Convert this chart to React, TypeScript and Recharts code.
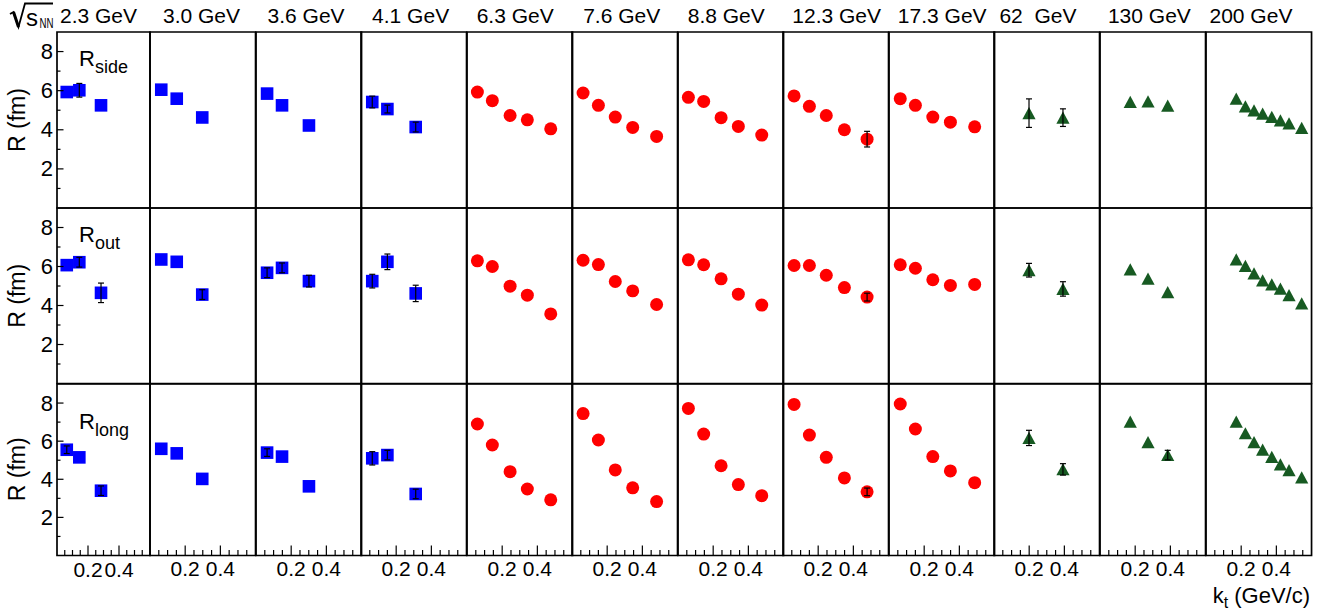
import { ScatterChart, Scatter, XAxis, YAxis, ErrorBar, ReferenceArea } from 'recharts';

const FONT = '"Liberation Sans", Arial, Helvetica, sans-serif';

// beam energies, one column each
const energies = ['2.3 GeV', '3.0 GeV', '3.6 GeV', '4.1 GeV', '6.3 GeV', '7.6 GeV', '8.8 GeV', '12.3 GeV', '17.3 GeV', '62  GeV', '130 GeV', '200 GeV'];
const markers = ['square', 'square', 'square', 'square', 'circle', 'circle', 'circle', 'circle', 'circle', 'triangle', 'triangle', 'triangle'];

// pair transverse momentum k_t (GeV/c) per energy
const kt = [
  [0.063, 0.144, 0.284],
  [0.064, 0.152, 0.297],
  [0.063, 0.148, 0.301],
  [0.064, 0.150, 0.311],
  [0.059, 0.144, 0.245, 0.343, 0.476],
  [0.063, 0.150, 0.246, 0.345, 0.481],
  [0.059, 0.146, 0.245, 0.343, 0.476],
  [0.063, 0.150, 0.246, 0.349, 0.478],
  [0.064, 0.150, 0.249, 0.349, 0.487],
  [0.199, 0.392],
  [0.172, 0.273, 0.385],
  [0.172, 0.224, 0.273, 0.322, 0.374, 0.423, 0.472, 0.544],
];

// radii (fm) and their errors; 0 = error hidden by the marker
const rSide = [
  [5.93, 6.02, 5.25],
  [6.05, 5.59, 4.63],
  [5.85, 5.25, 4.22],
  [5.42, 5.06, 4.14],
  [5.93, 5.49, 4.73, 4.51, 4.05],
  [5.88, 5.25, 4.65, 4.12, 3.66],
  [5.66, 5.45, 4.62, 4.17, 3.73],
  [5.73, 5.2, 4.73, 4.0, 3.52],
  [5.59, 5.25, 4.65, 4.39, 4.15],
  [4.85, 4.62],
  [5.42, 5.45, 5.23],
  [5.59, 5.19, 4.99, 4.82, 4.65, 4.48, 4.32, 4.09],
];
const eSide = [
  [0, 0.35, 0],
  [0, 0, 0],
  [0, 0, 0],
  [0.3, 0.2, 0.25],
  [0, 0, 0, 0, 0],
  [0, 0, 0, 0, 0],
  [0, 0, 0, 0, 0],
  [0, 0, 0, 0, 0.4],
  [0, 0, 0, 0, 0],
  [0.73, 0.45],
  [0, 0, 0],
  [0, 0, 0, 0, 0, 0, 0, 0],
];

const rOut = [
  [6.07, 6.22, 4.65],
  [6.36, 6.24, 4.56],
  [5.68, 5.93, 5.25],
  [5.25, 6.24, 4.62],
  [6.29, 6.0, 4.99, 4.53, 3.57],
  [6.32, 6.1, 5.23, 4.75, 4.05],
  [6.34, 6.09, 5.37, 4.58, 4.02],
  [6.05, 6.05, 5.55, 4.92, 4.43],
  [6.09, 5.91, 5.32, 5.03, 5.08],
  [5.81, 4.85],
  [5.85, 5.37, 4.68],
  [6.36, 6.03, 5.64, 5.28, 5.08, 4.86, 4.53, 4.1],
];
const eOut = [
  [0, 0.25, 0.5],
  [0, 0, 0.25],
  [0.25, 0.25, 0.3],
  [0.35, 0.4, 0.42],
  [0, 0, 0, 0, 0],
  [0, 0, 0, 0, 0],
  [0, 0, 0, 0, 0],
  [0, 0, 0, 0, 0.2],
  [0, 0, 0, 0, 0],
  [0.35, 0.37],
  [0, 0, 0],
  [0, 0, 0, 0, 0, 0, 0, 0],
];

const rLong = [
  [5.55, 5.15, 3.4],
  [5.6, 5.36, 4.02],
  [5.4, 5.19, 3.63],
  [5.1, 5.27, 3.23],
  [6.9, 5.8, 4.4, 3.49, 2.92],
  [7.45, 6.06, 4.49, 3.55, 2.83],
  [7.72, 6.37, 4.71, 3.72, 3.14],
  [7.93, 6.32, 5.15, 4.07, 3.34],
  [7.95, 6.64, 5.19, 4.44, 3.82],
  [6.17, 4.52],
  [7.02, 5.94, 5.27],
  [7.02, 6.41, 5.94, 5.55, 5.17, 4.78, 4.47, 4.09],
];
const eLong = [
  [0.2, 0, 0.25],
  [0, 0, 0],
  [0.2, 0, 0],
  [0.35, 0.25, 0.25],
  [0, 0, 0, 0, 0],
  [0, 0, 0, 0, 0],
  [0, 0, 0, 0, 0],
  [0, 0, 0, 0, 0.2],
  [0, 0, 0, 0, 0],
  [0.4, 0.3],
  [0, 0, 0.25],
  [0, 0, 0, 0, 0, 0, 0, 0],
];

const radii = [rSide, rOut, rLong];
const radiusErrors = [eSide, eOut, eLong];
const radiusNames = ['side', 'out', 'long'];

const xTicks = [0.05, 0.1, 0.15, 0.2, 0.25, 0.3, 0.35, 0.4, 0.45, 0.5, 0.55];
const xTickLabels = [0.2, 0.4];
const yTicks = [1, 2, 3, 4, 5, 6, 7, 8];
const yTickLabels = [2, 4, 6, 8];

// layout (pixels)
const FRAME_L = 57;
const COL0_R = 150;
const COL_W = 105.55;
const ROW_TOP = [32, 208, 383.5];
const ROW_BOT = [208, 383.5, 555];
const BOTTOM_PAD = 57;
const titleOffset = [3, 13, 12, 11, 10, 11, 10, 9, 9, 5, 8, 4];
const labelBaseline = [66, 242, 429];

const colors: Record<string, string> = {
  square: '#0000ff',
  circle: '#ff0000',
  triangle: '#175a22',
};

const Square = (p: any) => (
  <rect x={p.cx - 6.3} y={p.cy - 6.3} width={12.6} height={12.6} fill={colors.square} />
);
const Circle = (p: any) => <circle cx={p.cx} cy={p.cy} r={6.5} fill={colors.circle} />;
const Triangle = (p: any) => (
  <polygon
    points={`${p.cx - 6.6},${p.cy + 6} ${p.cx + 6.6},${p.cy + 6} ${p.cx},${p.cy - 6.2}`}
    fill={colors.triangle}
  />
);
const shapes: Record<string, any> = { square: Square, circle: Circle, triangle: Triangle };
const NoShape = () => <g />;

const isOn = (list: number[], v: number) => list.some(t => Math.abs(t - v) < 1e-6);

const xTick = (showLabel: boolean) => (props: any) => {
  const { x, y, payload } = props;
  const major = isOn(xTickLabels, payload.value);
  return (
    <g>
      <line x1={x} x2={x} y1={y} y2={y - (major ? 10 : 5.5)} stroke="#000" strokeWidth={1.2} />
      {showLabel && major && (
        <text x={x} y={y + 21} textAnchor="middle" fontSize={21} fontFamily={FONT} fill="#000">
          {payload.value.toFixed(1)}
        </text>
      )}
    </g>
  );
};

const yTick = (showLabel: boolean) => (props: any) => {
  const { x, y, payload } = props;
  const major = isOn(yTickLabels, payload.value);
  return (
    <g>
      <line x1={x} x2={x + (major ? 6.5 : 3.5)} y1={y} y2={y} stroke="#000" strokeWidth={1.2} />
      {showLabel && major && (
        <text x={x - 4} y={y} dominantBaseline="central" textAnchor="end" fontSize={22} fontFamily={FONT} fill="#000">
          {payload.value}
        </text>
      )}
    </g>
  );
};

function Panel({ row, col }: { row: number; col: number }) {
  const left = col === 0 ? 0 : COL0_R + (col - 1) * COL_W;
  const right = COL0_R + col * COL_W;
  const yAxisW = col === 0 ? FRAME_L : 0;
  const xAxisH = row === 2 ? BOTTOM_PAD : 0;
  const top = ROW_TOP[row];
  const height = ROW_BOT[row] - top + xAxisH;
  const width = right - left;

  const data = kt[col].map((k, i) => ({
    kt: k,
    r: radii[row][col][i],
    err: radiusErrors[row][col][i],
  }));
  // only the points whose error bar sticks out of the marker
  const errData = data.filter(d => d.err > 0);

  return (
    <div style={{ position: 'absolute', left, top, width, height }}>
      <ScatterChart width={width} height={height} margin={{ top: 0, right: 0, bottom: 0, left: 0 }}>
        <XAxis
          type="number"
          dataKey="kt"
          domain={[0, 0.6]}
          allowDataOverflow
          ticks={xTicks}
          interval={0}
          height={xAxisH}
          tickSize={0}
          tickMargin={0}
          axisLine={false}
          tickLine={false}
          tick={xTick(row === 2)}
        />
        <YAxis
          type="number"
          dataKey="r"
          domain={[0, 9]}
          allowDataOverflow
          ticks={yTicks}
          interval={0}
          width={yAxisW}
          tickSize={0}
          tickMargin={0}
          axisLine={false}
          tickLine={false}
          tick={yTick(col === 0)}
        />
        <ReferenceArea x1={0} x2={0.6} y1={0} y2={9} fill="none" stroke="#000" strokeWidth={1.7} ifOverflow="visible" />
        <Scatter data={data} shape={shapes[markers[col]]} isAnimationActive={false} />
        {errData.length > 0 && (
          <Scatter data={errData} shape={NoShape} isAnimationActive={false} zIndex={900}>
            <ErrorBar
              dataKey="err"
              direction="y"
              width={3}
              stroke="#000"
              strokeWidth={1.2}
              isAnimationActive={false}
              zIndex={1000}
            />
          </Scatter>
        )}
      </ScatterChart>
    </div>
  );
}

export default function App() {
  const rows = [0, 1, 2];
  const cols = energies.map((_, i) => i);
  return (
    <div style={{ position: 'absolute', left: 0, top: 0, width: 1337, height: 612, background: '#fff', fontFamily: FONT }}>
      <style>{'.recharts-surface{overflow:visible}'}</style>
      {rows.map(r => cols.map(c => <Panel key={`${r}-${c}`} row={r} col={c} />))}
      <svg width={1337} height={612} style={{ position: 'absolute', left: 0, top: 0, pointerEvents: 'none' }}>
        {/* sqrt(s_NN) */}
        <path d="M10,14 L13.5,12 L18.5,27 L25,3.5 L53,3.5" fill="none" stroke="#000" strokeWidth={1.8} />
        <path d="M13.5,12 L18.5,27" stroke="#000" strokeWidth={3} />
        <text x={26} y={26} fontSize={24} fontFamily={FONT} fill="#000">s</text>
        <text x={39.5} y={28} fontSize={14} fontFamily={FONT} fill="#000" textLength={14} lengthAdjust="spacingAndGlyphs">NN</text>

        {energies.map((e, c) => (
          <text
            key={e}
            x={(c === 0 ? FRAME_L : COL0_R + (c - 1) * COL_W) + titleOffset[c]}
            y={23}
            fontSize={21}
            fontFamily={FONT}
            fill="#000"
            style={{ whiteSpace: 'pre' }}
          >
            {e}
          </text>
        ))}

        {rows.map(r => {
          const cy = (ROW_TOP[r] + ROW_BOT[r]) / 2;
          return (
            <g key={r}>
              <text x={25} y={cy} transform={`rotate(-90, 25, ${cy})`} textAnchor="middle" fontSize={23} fontFamily={FONT} fill="#000">
                R (fm)
              </text>
              <text x={79} y={labelBaseline[r]} fontSize={22} fontFamily={FONT} fill="#000">
                R<tspan fontSize={18} dy={7}>{radiusNames[r]}</tspan>
              </text>
            </g>
          );
        })}

        <text x={1310} y={603} textAnchor="end" fontSize={22} fontFamily={FONT} fill="#000">
          k<tspan fontSize={16} dy={5}>t</tspan>
          <tspan dy={-5}> (GeV/c)</tspan>
        </text>
      </svg>
    </div>
  );
}
